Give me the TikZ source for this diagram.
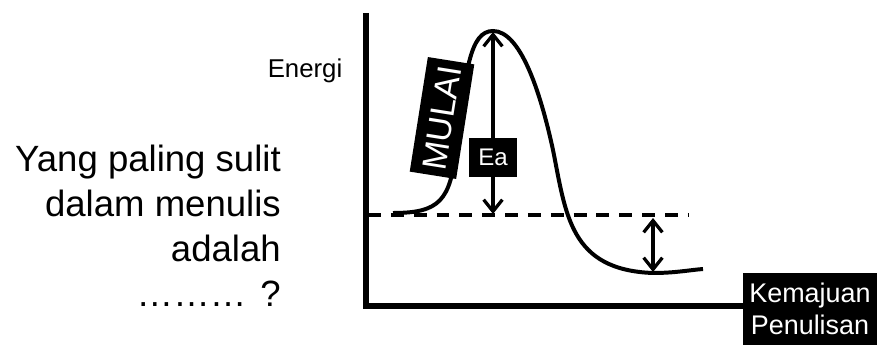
\documentclass[tikz,border=0pt]{standalone}
\usepackage{fontspec}
\setmainfont{Liberation Sans}
\usetikzlibrary{arrows.meta}

\begin{document}
\begin{tikzpicture}[x=0.03cm, y=-0.03cm,
    blackbox/.style={fill=black, text=white, inner sep=0pt},
    twoway/.style={{Straight Barb[length=10pt,width=16pt]}-{Straight Barb[length=10pt,width=16pt]}, line width=2.8pt}]
    \useasboundingbox (0,0) rectangle (877,345);

    % Axis labels
    \node[inner sep=0pt, anchor=base, font=\fontsize{22}{26}\selectfont] (energi) at (305,78) {Energi};
    \node[blackbox, align=center, minimum width=4.02cm, minimum height=2.16cm,
          font=\fontsize{23}{27}\selectfont] (kemajuan) at (810,309) {Kemajuan\\Penulisan};

    % Axes
    \coordinate (ytop) at (366,13);
    \coordinate (origin) at (366,306);
    \draw[line width=5pt, line join=miter] (ytop) -- (origin) -- (origin -| kemajuan.west);

    % Energy curve
    \draw[line width=3.4pt]
        (393,213) .. controls (440,213) and (450,200) .. (456,150)
        .. controls (465.6,70) and (470,31) .. (493,31)
        .. controls (520,31) and (540,90) .. (553,150)
        .. controls (566,215) and (570,270) .. (653,273)
        .. controls (675,273) and (690,270) .. (703,269);

    % Reference level
    \coordinate (dashL) at (368,215);
    \coordinate (dashR) at (688,215);
    \draw[line width=3.4pt, dash pattern=on 11pt off 8.5pt] (dashL) -- (dashR);

    % Activation energy
    \coordinate (peak) at (493,32);
    \coordinate (eabase) at (493,214);
    \draw[twoway] (peak) -- (eabase);
    \node[blackbox, minimum width=1.44cm, minimum height=1.17cm,
          font=\fontsize{20.5}{24}\selectfont] (ea) at (493,157.5) {Ea};

    % Energy released
    \coordinate (dtop) at (653,218);
    \coordinate (dbottom) at (653,272);
    \draw[twoway] (dtop) -- (dbottom);

    % Start label
    \node[blackbox, rotate=81, minimum width=3.48cm, minimum height=1.41cm,
          font=\fontsize{29}{33}\selectfont] (mulai) at (442,118) {MULAI};

    % Question
    \node[inner sep=0pt, anchor=north east, align=right,
          font=\fontsize{31.2}{38.3}\selectfont] (question) at (281,145)
        {Yang paling sulit\\dalam menulis\\adalah\\………\hspace{12pt}?};
\end{tikzpicture}
\end{document}
